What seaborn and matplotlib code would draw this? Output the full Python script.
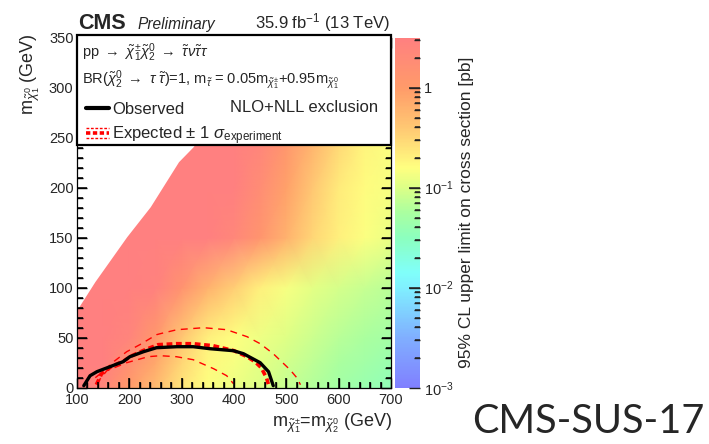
import numpy as np
import matplotlib
matplotlib.use("Agg")
import matplotlib.pyplot as plt
import matplotlib.transforms as mtransforms
import seaborn as sns
from matplotlib.colors import LinearSegmentedColormap, LogNorm
from matplotlib.ticker import MultipleLocator, LogLocator, FixedLocator, FixedFormatter, NullFormatter
from matplotlib.legend_handler import HandlerBase
from matplotlib.lines import Line2D
from matplotlib.patches import Rectangle

# ---------------- data ----------------
# grid nodes: m(chi2) = m(chi1+-) [GeV] and m(LSP) [GeV]
m_chi2_nodes = [100, 150, 200, 250, 300, 350, 400, 450, 500, 550, 600, 650, 700]
m_lsp_nodes = [0, 25, 50, 100, 150, 200, 250]
# log10 of the 95% CL upper limit on the cross section [pb], one row per m_lsp node
log_limit_lsp0 = [0.6, 0.35, 0.0, -0.3, -0.62, -0.8, -0.9, -1.0, -1.1, -1.2, -1.3, -1.38, -1.45]
log_limit_lsp25 = [0.7, 0.55, 0.2, -0.12, -0.5, -0.75, -0.85, -0.95, -1.05, -1.15, -1.24, -1.31, -1.38]
log_limit_lsp50 = [0.8, 0.7, 0.4, 0.05, -0.38, -0.7, -0.8, -0.9, -0.98, -1.08, -1.17, -1.24, -1.3]
log_limit_lsp100 = [1.0, 0.9, 0.7, 0.45, 0.15, -0.2, -0.45, -0.7, -0.85, -0.95, -1.04, -1.1, -1.17]
log_limit_lsp150 = [1.0, 1.0, 1.0, 1.0, 0.75, 0.55, 0.35, 0.1, -0.2, -0.5, -0.7, -0.82, -0.92]
log_limit_lsp200 = [1.0, 1.0, 1.0, 1.0, 1.0, 0.9, 0.55, 0.25, -0.05, -0.4, -0.65, -0.78, -0.85]
log_limit_lsp250 = [1.0, 1.0, 1.0, 1.0, 1.0, 1.0, 0.7, 0.4, 0.1, -0.2, -0.5, -0.72, -0.82]

# edge of the scanned region (no signal points above it)
edge_m_chi2 = [100, 134, 195, 240, 294, 322, 400]
edge_m_lsp = [78, 106, 151, 181, 226, 241, 300]

# exclusion contours
obs_m_chi2 = [113, 125, 138, 163, 188, 201, 227, 252, 291, 322, 354, 399, 418, 450, 466, 475]
obs_m_lsp = [2, 12, 16, 21, 26, 31, 36, 40, 41, 41, 39, 37, 34, 25, 16, 2]
exp_m_chi2 = [137, 147, 165, 190, 205, 230, 255, 290, 322, 360, 400, 425, 440, 452, 462, 466]
exp_m_lsp = [3, 14, 21, 27, 32, 38, 43, 44, 44, 42, 37, 31, 26, 20, 10, 3]
exp_up_m_chi2 = [135, 147, 170, 195, 220, 252, 259, 291, 342, 386, 425, 450, 475, 507, 520, 527]
exp_up_m_lsp = [10, 15, 26, 36, 43, 53, 54, 58, 60, 58, 51, 44, 34, 18, 10, 3]
exp_dn_m_chi2 = [137, 157, 195, 236, 259, 290, 322, 361, 386, 399]
exp_dn_m_lsp = [4, 17, 25, 31, 32, 31, 28, 19, 12, 4]

cbar_ticks = [1e-3, 1e-2, 1e-1, 1]
cbar_ticklabels = ["$10^{-3}$", "$10^{-2}$", "$10^{-1}$", "1"]

# ---------------- style ----------------
sns.set_theme(style="ticks")
plt.rcParams["font.family"] = ["Liberation Sans", "DejaVu Sans"]
plt.rcParams["mathtext.fontset"] = "custom"
plt.rcParams["mathtext.rm"] = "Liberation Sans"
plt.rcParams["mathtext.it"] = "Liberation Sans:italic"
plt.rcParams["mathtext.bf"] = "Liberation Sans:bold"
plt.rcParams["mathtext.sf"] = "Liberation Sans"
plt.rcParams["axes.axisbelow"] = False
plt.rcParams["axes.edgecolor"] = "black"
plt.rcParams["axes.linewidth"] = 0.9

W, H = 709, 444
fig = plt.figure(figsize=(W / 100, H / 100), dpi=100)


def fx(px):
    return px / W


def fy(py):
    return 1 - py / H


ax_l, ax_r, ax_t, ax_b = 77, 391, 37.7, 387.7
ax = fig.add_axes([fx(ax_l), fy(ax_b), (ax_r - ax_l) / W, (ax_b - ax_t) / H])
cax = fig.add_axes([fx(395), fy(ax_b), 25 / W, (ax_b - ax_t) / H])

# palette: ROOT rainbow seen through 50% transparency
lo, hi = -3.0, 0.5
stops = [(-3.0, (128, 128, 255)), (-2.5, (128, 175, 255)), (-2.0, (128, 240, 255)),
         (-1.85, (128, 255, 250)), (-1.5, (140, 255, 190)), (-1.25, (170, 255, 160)),
         (-1.0, (220, 255, 135)), (-0.8, (255, 255, 128)), (-0.4, (255, 200, 115)),
         (0.0, (255, 155, 105)), (0.5, (255, 128, 128))]
cmap = LinearSegmentedColormap.from_list(
    "cmsrainbow", [((v - lo) / (hi - lo), tuple(c / 255 for c in col)) for v, col in stops])

Z = np.array([log_limit_lsp0, log_limit_lsp25, log_limit_lsp50, log_limit_lsp100,
              log_limit_lsp150, log_limit_lsp200, log_limit_lsp250])
X, Y = np.meshgrid(m_chi2_nodes, m_lsp_nodes)
mesh = ax.pcolormesh(X, Y, 10 ** Z, cmap=cmap, norm=LogNorm(vmin=10 ** lo, vmax=10 ** hi),
                     shading="gouraud", zorder=0)

# region outside the scan
ax.fill_between(edge_m_chi2, edge_m_lsp, 400, color="white", lw=0, zorder=1)

# contours
sns.lineplot(x=exp_up_m_chi2, y=exp_up_m_lsp, sort=False, estimator=None, ax=ax,
             color="#ff0000", lw=1.0, linestyle=(0, (5, 4)), zorder=3)
sns.lineplot(x=exp_dn_m_chi2, y=exp_dn_m_lsp, sort=False, estimator=None, ax=ax,
             color="#ff0000", lw=1.0, linestyle=(0, (5, 4)), zorder=3)
sns.lineplot(x=exp_m_chi2, y=exp_m_lsp, sort=False, estimator=None, ax=ax,
             color="#ff0000", lw=2.6, linestyle=(0, (1.6, 1.0)), zorder=3)
sns.lineplot(x=obs_m_chi2, y=obs_m_lsp, sort=False, estimator=None, ax=ax,
             color="black", lw=2.4, zorder=4)

ax.set_xlim(100, 700)
ax.set_ylim(0, 350)
ax.set(xlabel=None, ylabel=None)
ax.xaxis.set_major_locator(MultipleLocator(100))
ax.xaxis.set_minor_locator(MultipleLocator(20))
ax.yaxis.set_major_locator(MultipleLocator(50))
ax.yaxis.set_minor_locator(MultipleLocator(10))
ax.tick_params(which="both", direction="in", top=True, right=True, bottom=True, left=True,
               color="black", width=1.0)
ax.tick_params(which="major", length=7, labelsize=10.5)
ax.tick_params(which="minor", length=4)
ax.tick_params(axis="x", which="major", pad=4)
ax.tick_params(axis="y", which="major", pad=2.5)

# colorbar
cb = fig.colorbar(mesh, cax=cax)
cb.outline.set_visible(False)
cax.yaxis.set_major_locator(FixedLocator(cbar_ticks))
cax.yaxis.set_major_formatter(FixedFormatter(cbar_ticklabels))
cax.yaxis.set_minor_locator(LogLocator(base=10, subs=np.arange(2, 10)))
cax.yaxis.set_minor_formatter(NullFormatter())
cax.tick_params(which="both", direction="in", right=True, left=False, color="#222222", width=1.0)
cax.tick_params(which="major", length=8, labelsize=10.5, pad=3)
cax.tick_params(which="minor", length=4)
fig.text(fx(466), fy(212), "95% CL upper limit on cross section [pb]", rotation=90,
         ha="center", va="center", fontsize=12.5)

# legend box
ax.add_patch(Rectangle((0, (ax_b - 145) / (ax_b - ax_t)), 1, (145 - 35) / (ax_b - ax_t),
                       transform=ax.transAxes, fc="white", ec="black", lw=1.6,
                       zorder=4.9, clip_on=False))
fig.text(fx(82), fy(53),
         r"pp $\rightarrow$ $\tilde{\chi}^{\pm}_{1}\tilde{\chi}^{0}_{2}$ $\rightarrow$ $\tilde{\tau}\nu\tilde{\tau}\tau$",
         fontsize=10.5, va="center", ha="left")
fig.text(fx(82), fy(80),
         r"BR($\tilde{\chi}^{0}_{2}$ $\rightarrow$ $\tau$ $\tilde{\tau}$)=1, m$_{\tilde{\tau}}$ = 0.05m$_{\tilde{\chi}^{\pm}_{1}}$+0.95m$_{\tilde{\chi}^{0}_{1}}$",
         fontsize=10.5, va="center", ha="left")
fig.text(fx(230), fy(108), "NLO+NLL exclusion", fontsize=12, va="center", ha="left")


class TripleDash(HandlerBase):
    def create_artists(self, legend, orig_handle, xdescent, ydescent, width, height, fontsize, trans):
        arts = []
        for frac, lw, dash in [(0.95, 1.0, (2.0, 1.2)), (0.5, 2.6, (1.2, 0.7)), (0.05, 1.0, (2.0, 1.2))]:
            yv = -ydescent + height * frac
            ln = Line2D([-xdescent, -xdescent + width], [yv, yv], color="#ff0000", lw=lw,
                        linestyle=(0, dash), transform=trans)
            arts.append(ln)
        return arts


h_obs = Line2D([], [], color="black", lw=3)
h_exp = Line2D([], [], color="#ff0000", lw=2.6)
fig.legend([h_obs, h_exp], ["Observed", r"Expected $\pm$ 1 $\sigma_{\mathrm{experiment}}$"],
           handler_map={h_exp: TripleDash()}, loc="upper left",
           bbox_to_anchor=(fx(86), fy(102)), frameon=False, fontsize=12,
           handlelength=1.4, handletextpad=0.15, labelspacing=0.42, borderpad=0,
           borderaxespad=0)

# axis titles
fig.text(fx(392), fy(423), r"m$_{\tilde{\chi}^{\pm}_{1}}$=m$_{\tilde{\chi}^{0}_{2}}$ (GeV)",
         ha="right", va="center", fontsize=13)
fig.text(fx(30), fy(33), r"m$_{\tilde{\chi}^{0}_{1}}$ (GeV)", rotation=90,
         ha="center", va="top", fontsize=13)

# header
fig.text(fx(78), fy(29), "CMS", fontsize=15.5, fontweight="bold", va="baseline", ha="left")
fig.text(fx(138), fy(28.5), "Preliminary", fontsize=11.2, style="italic", va="baseline", ha="left")
fig.text(fx(390), fy(28.5), r"35.9 fb$^{-1}$ (13 TeV)", fontsize=12, va="baseline", ha="right")

# slide tag
fig.text(fx(704), fy(433), "CMS-SUS-17", fontsize=28.5, family=["Lato", "DejaVu Sans"],
         va="baseline", ha="right")


# ---- inward tick marks, drawn as line collections at the axis locator positions ----
def draw_axis_ticks(a, xs_major, xs_minor, ys_major, ys_minor, col, maj_px, min_px, sides):
    bb = a.get_window_extent()
    tx = mtransforms.blended_transform_factory(a.transData, a.transAxes)
    ty = mtransforms.blended_transform_factory(a.transAxes, a.transData)
    for locs, L in [(xs_major, maj_px), (xs_minor, min_px)]:
        if len(locs) == 0:
            continue
        f = L / bb.height
        if "bottom" in sides:
            a.vlines(locs, 0, f, transform=tx, colors=col, lw=1.1, zorder=4.5, clip_on=False)
    for locs, L in [(ys_major, maj_px), (ys_minor, min_px)]:
        if len(locs) == 0:
            continue
        f = L / bb.width
        if "left" in sides:
            a.hlines(locs, 0, f, transform=ty, colors=col, lw=1.1, zorder=4.5, clip_on=False)
        if "right" in sides:
            a.hlines(locs, 1 - f, 1, transform=ty, colors=col, lw=1.1, zorder=4.5, clip_on=False)


fig.canvas.draw()
xmaj = [v for v in ax.xaxis.get_majorticklocs() if 100 < v < 700]
xmin = [v for v in ax.xaxis.get_minorticklocs() if 100 < v < 700]
ymaj = [v for v in ax.yaxis.get_majorticklocs() if 0 < v < 350]
ymin = [v for v in ax.yaxis.get_minorticklocs() if 0 < v < 350]
draw_axis_ticks(ax, xmaj, xmin, ymaj, ymin, "black", 9.5, 5.5, ("bottom", "left", "right"))
vmin, vmax = 10 ** lo, 10 ** hi
cmaj = [v for v in cax.yaxis.get_majorticklocs() if vmin < v < vmax]
cmin = [v for v in cax.yaxis.get_minorticklocs() if vmin < v < vmax]
draw_axis_ticks(cax, [], [], cmaj, cmin, "#222222", 11, 5.5, ("right",))

fig.savefig("out.png", dpi=100)
